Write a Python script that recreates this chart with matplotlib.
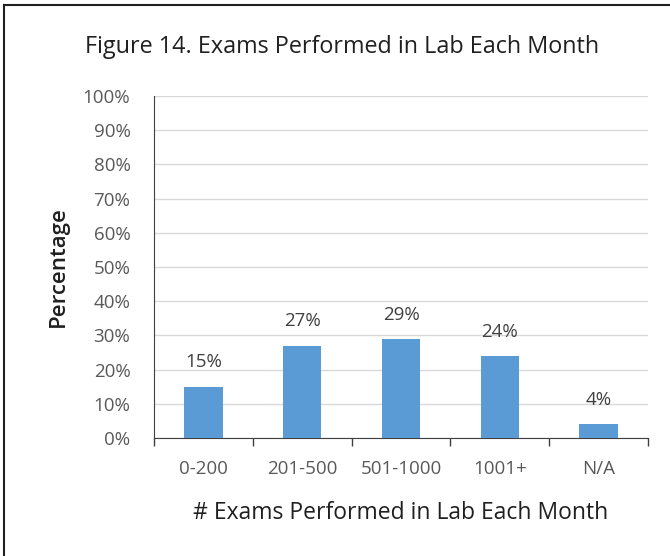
import matplotlib
matplotlib.use("Agg")
import matplotlib.pyplot as plt
from matplotlib.lines import Line2D
import numpy as np

categories = ["0-200", "201-500", "501-1000", "1001+", "N/A"]
values = [15, 27, 29, 24, 4]
yticks = [0, 10, 20, 30, 40, 50, 60, 70, 80, 90, 100]
ytick_labels = [f"{v}%" for v in yticks]
title = "Figure 14. Exams Performed in Lab Each Month"
xlabel = "# Exams Performed in Lab Each Month"
ylabel = "Percentage"

plt.rcParams['font.family'] = ['Open Sans', 'DejaVu Sans']

fig = plt.figure(figsize=(6.7, 5.56), dpi=100)
ax = fig.add_axes([154/670, 1-438/556, (648-154)/670, (438-96)/556])

x = np.arange(len(categories))
bar_color = "#5B9BD5"
ax.bar(x, values, width=0.39, color=bar_color, zorder=3)
for xi, v in zip(x, values):
    ax.annotate(f"{v}%", (xi, v), xytext=(0, 11), textcoords="offset points",
                ha="center", va="bottom", fontsize=13.5, color="#404040")

ax.set_xlim(-0.5, len(categories) - 0.5)
ax.set_ylim(0, 100)
ax.set_yticks(yticks)
ax.set_yticklabels(ytick_labels, fontsize=13.5, color="#595959")
ax.yaxis.grid(True, color="#D9D9D9", linewidth=1, zorder=0)
ax.tick_params(axis="y", length=0, pad=17)

ax.set_xticks(x)
ax.set_xticklabels(categories, fontsize=13.5, color="#595959")
ax.set_xticks(np.arange(-0.5, len(categories)), minor=True)
ax.tick_params(axis="x", which="major", length=0, pad=16)
ax.tick_params(axis="x", which="minor", length=6, width=1, color="#404040")

for s in ["top", "right"]:
    ax.spines[s].set_visible(False)
ax.spines["left"].set_color("#404040")
ax.spines["bottom"].set_color("#404040")

ax.set_xlabel(xlabel, fontsize=16.5, color="#202020")
ax.xaxis.set_label_coords(0.5, (438 - 513) / 342)
ax.xaxis.label.set_va("center")
ax.set_ylabel(ylabel, fontsize=16, fontweight="semibold", color="#202020")
ax.yaxis.set_label_coords((58 - 154) / 494, 0.5)
ax.yaxis.label.set_va("center")

fig.text(342/670, 1 - 47/556, title, ha="center", va="center", fontsize=16.8, color="#202020")

# partial frame (left and top)
fig.add_artist(Line2D([4/670, 4/670], [0, 1 - 5/556], transform=fig.transFigure, color="#202020", linewidth=1.5))
fig.add_artist(Line2D([4/670, 1], [1 - 5/556, 1 - 5/556], transform=fig.transFigure, color="#202020", linewidth=1.5))

fig.savefig("out.png", dpi=100)
